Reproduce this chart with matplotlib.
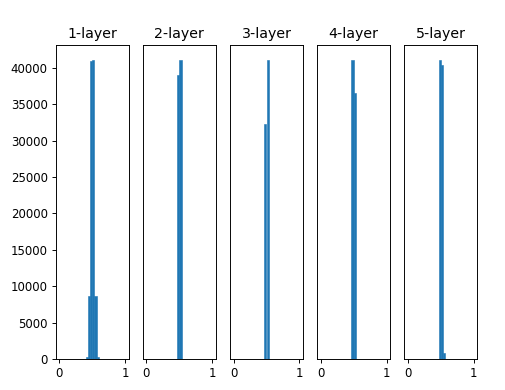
import numpy as np
import matplotlib
matplotlib.use("Agg")
import matplotlib.pyplot as plt

# Histogram of activations per layer: 30 bins over [0, 1]
n_bins = 30
bin_range = (0.0, 1.0)
titles = ["1-layer", "2-layer", "3-layer", "4-layer", "5-layer"]

# counts per bin index (others are zero)
layer1_counts = {12: 300, 13: 8600, 14: 40950, 15: 41100, 16: 8600, 17: 300}
layer2_counts = {14: 39100, 15: 41100}
layer3_counts = {14: 32300, 15: 41100}
layer4_counts = {14: 41100, 15: 36500}
layer5_counts = {14: 41100, 15: 40350, 16: 850}
layers = [layer1_counts, layer2_counts, layer3_counts, layer4_counts, layer5_counts]

y_ticks = [0, 5000, 10000, 15000, 20000, 25000, 30000, 35000, 40000]
x_ticks = [0, 1]

s = 0.85
plt.rcParams.update({
    "font.size": 10 * s,
    "axes.titlesize": 12 * s,
    "axes.linewidth": 0.8 * s,
    "xtick.major.width": 0.8 * s,
    "ytick.major.width": 0.8 * s,
    "xtick.major.size": 3.5 * s,
    "ytick.major.size": 3.5 * s,
    "xtick.major.pad": 3.5 * s,
    "ytick.major.pad": 3.5 * s,
    "axes.titlepad": 6 * s,
})

fig = plt.figure(figsize=(5.05, 3.90), dpi=100)
fig.subplots_adjust(left=56 / 505, right=477 / 505, top=1 - 45 / 390,
                    bottom=1 - 359 / 390, wspace=0.2)

edges = np.linspace(bin_range[0], bin_range[1], n_bins + 1)
centers = (edges[:-1] + edges[1:]) / 2

for i, counts in enumerate(layers):
    ax = fig.add_subplot(1, len(layers), i + 1)
    ax.set_title(titles[i])
    w = np.zeros(n_bins)
    for k, v in counts.items():
        w[k] = v
    ax.hist(centers, bins=n_bins, range=bin_range, weights=w, color="#1f77b4",
            edgecolor="#1f77b4", linewidth=0.4)
    ax.set_xticks(x_ticks)
    ax.set_xticklabels([str(t) for t in x_ticks])
    if i == 0:
        ax.set_yticks(y_ticks)
        ax.set_yticklabels([str(t) for t in y_ticks])
    else:
        ax.set_yticks([])

fig.savefig("out.png", dpi=100)
